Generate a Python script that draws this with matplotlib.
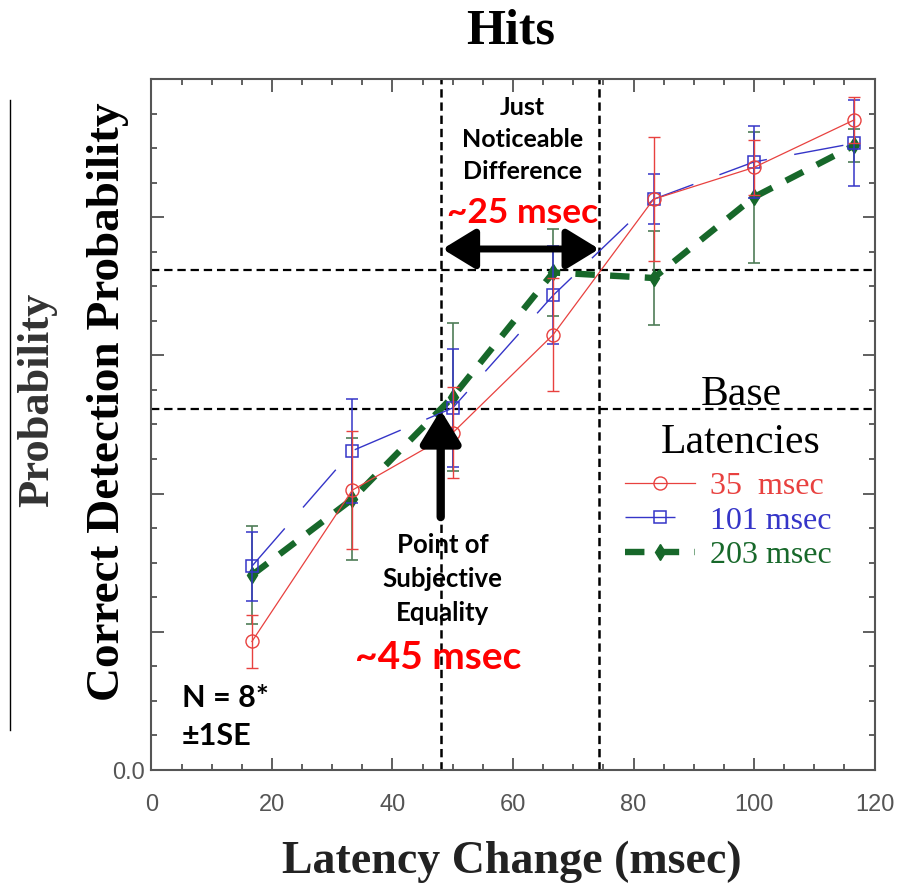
import matplotlib
matplotlib.use('Agg')
import matplotlib.pyplot as plt
from matplotlib.lines import Line2D
from matplotlib.ticker import MultipleLocator
import numpy as np

plt.rcParams['lines.scale_dashes'] = False

# ---------------- data ----------------
latency_change = [16.67, 33.33, 50.0, 66.67, 83.33, 100.0, 116.67]

p35 = [0.186, 0.405, 0.488, 0.630, 0.826, 0.872, 0.941]
se35 = [0.038, 0.085, 0.066, 0.082, 0.090, 0.040, 0.033]

p101 = [0.295, 0.462, 0.524, 0.687, 0.826, 0.880, 0.907]
se101 = [0.050, 0.075, 0.085, 0.071, 0.036, 0.052, 0.062]

p203 = [0.282, 0.392, 0.540, 0.720, 0.712, 0.829, 0.904]
se203 = [0.071, 0.088, 0.107, 0.063, 0.068, 0.095, 0.024]

series_labels = ['35  msec', '101 msec', '203 msec']
x_ticks = [0, 20, 40, 60, 80, 100, 120]
y_ticks = [0.0, 0.2, 0.4, 0.6, 0.8, 1.0]
y_ticklabels = ['0.0', '', '', '', '', '']

pse_x = 48.0      # point of subjective equality
jnd_x = 74.3      # end of just noticeable difference
pse_y = 0.522
jnd_y = 0.723

# ---------------- styling ----------------
RED = '#e8413f'
BLUE = '#3535c8'
GREEN = '#17682a'
GREEN_ERR = '#4f7d58'
serif = 'Liberation Serif'
callout = 'Lato'

fig = plt.figure(figsize=(9.19, 8.90), dpi=100)
ax = fig.add_axes([0.16485, 0.13483, 0.78673, 0.77641])

# reference lines
dash_k = (0, (6, 3.5))
ax.axhline(pse_y, color='black', lw=1.6, ls=dash_k, zorder=1)
ax.axhline(jnd_y, color='black', lw=1.6, ls=dash_k, zorder=1)
ax.axvline(pse_x, color='black', lw=1.8, ls=dash_k, zorder=1)
ax.axvline(jnd_x, color='black', lw=1.8, ls=dash_k, zorder=1)

# series
g = ax.errorbar(latency_change, p203, yerr=se203, color=GREEN, lw=4.6,
                ls=(0, (14, 11)), marker='d', ms=8, mfc=GREEN, mec=GREEN,
                ecolor=GREEN_ERR, elinewidth=1.2, capsize=4, capthick=1.2, zorder=3)
b = ax.errorbar(latency_change, p101, yerr=se101, color=BLUE, lw=1.0,
                ls=(0, (36, 20)), marker='s', ms=8.6, mfc='none', mec=BLUE, mew=1.1,
                ecolor=BLUE, elinewidth=1.1, capsize=4, capthick=1.1, zorder=4)
r = ax.errorbar(latency_change, p35, yerr=se35, color=RED, lw=0.9,
                marker='o', ms=9.4, mfc='none', mec=RED, mew=1.0,
                ecolor=RED, elinewidth=1.0, capsize=4, capthick=1.0, zorder=5)

# axes formatting
ax.set_xlim(0, 120)
ax.set_ylim(0, 1.0)
ax.set_xticks(x_ticks)
ax.set_xticklabels([str(t) for t in x_ticks])
ax.set_yticks(y_ticks)
ax.set_yticklabels(y_ticklabels)
ax.xaxis.set_minor_locator(MultipleLocator(5))
ax.yaxis.set_minor_locator(MultipleLocator(0.05))
ax.tick_params(which='both', direction='in', top=True, right=True, colors='#444', width=1.2)
ax.tick_params(which='major', length=9)
ax.tick_params(which='minor', length=4.5)
ax.tick_params(axis='x', which='major', pad=17, labelsize=17, labelcolor='#555')
ax.tick_params(axis='y', which='major', pad=5, labelsize=17, labelcolor='#555')
for lab in ax.get_xticklabels() + ax.get_yticklabels():
    lab.set_family('Liberation Sans')
for s in ax.spines.values():
    s.set_color('#555')
    s.set_linewidth(1.5)

# legend
fig.text(741/919, 1-395/890, 'Base', ha='center', va='center', family=serif, size=30)
fig.text(741/919, 1-443/890, 'Latencies', ha='center', va='center', family=serif, size=30)
leg = ax.legend([r[0], b[0], g[0]], series_labels, loc='upper left',
                bbox_to_anchor=(0.655, 0.432), frameon=False,
                prop=dict(family=serif, size=23), handlelength=2.2,
                handletextpad=0.45, labelspacing=0.17, borderpad=0, borderaxespad=0)
for t, c in zip(leg.get_texts(), [RED, BLUE, GREEN]):
    t.set_color(c)

# annotations
ax.annotate('', xy=(jnd_x, 0.754), xytext=(pse_x + 0.3, 0.754),
            arrowprops=dict(arrowstyle='<|-|>,head_length=0.9,head_width=0.55',
                            lw=5, color='black', shrinkA=0, shrinkB=0,
                            mutation_scale=22), zorder=6)
ax.annotate('', xy=(pse_x, 0.521), xytext=(pse_x, 0.366),
            arrowprops=dict(arrowstyle='-|>,head_length=0.9,head_width=0.55',
                            lw=6, color='black', shrinkA=0, shrinkB=0,
                            mutation_scale=22), zorder=6)

ax.text(61.6, 0.913, 'Just\nNoticeable\nDifference', ha='center', va='center',
        family=callout, weight='bold', size=18, linespacing=1.47, zorder=7)
ax.text(61.6, 0.806, '~25 msec', ha='center', va='center', color='#ff0000',
        family=callout, weight='bold', size=25.5, zorder=7)
ax.text(48.3, 0.277, 'Point of\nSubjective\nEquality', ha='center', va='center',
        family=callout, weight='bold', size=18.5, linespacing=1.5, zorder=7)
ax.text(47.6, 0.163, '~45 msec', ha='center', va='center', color='#ff0000',
        family=callout, weight='bold', size=28, zorder=7)
ax.text(5.06, 0.0767, 'N = 8*\n±1SE', ha='left', va='center',
        family=callout, weight='bold', size=22, linespacing=1.4, zorder=7)

# titles and labels
fig.text(511/919, 1-32/890, 'Hits', ha='center', va='center', family=serif,
         weight='bold', size=36)
fig.text(512/919, 1-862/890, 'Latency Change (msec)', ha='center', va='center',
         family=serif, weight='bold', size=33, color='#222')
fig.text(108/919, 1-402/890, 'Correct Detection Probability', rotation=90,
         ha='center', va='center', family=serif, weight='bold', size=34)
fig.text(37/919, 1-400/890, 'Probability', rotation=90, ha='center', va='center',
         family=serif, weight='bold', size=32, color='#333')
fig.add_artist(Line2D([10/919, 10/919], [1-100/890, 1-730/890], color='black', lw=1.0))

fig.savefig('out.png', dpi=100)
